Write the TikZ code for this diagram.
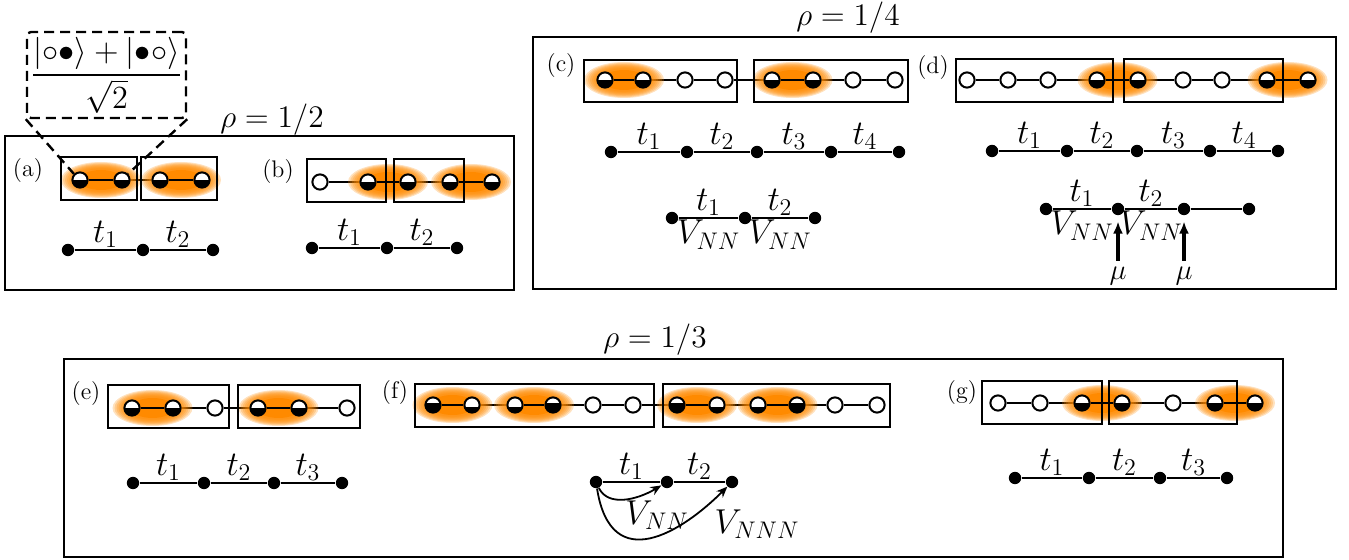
\documentclass[tikz,border=0pt]{standalone}
\usepackage{amsmath}
\usepackage{graphicx}
\usetikzlibrary{arrows.meta,calc}

\definecolor{glowcol}{RGB}{255,138,0}

\pgfdeclarelayer{bonds}
\pgfdeclarelayer{glows}
\pgfsetlayers{bonds,glows,main}

\tikzset{
  site/.style={circle, draw, fill=white, line width=1pt, minimum size=7.6pt, inner sep=0pt},
  vac/.style={},
  half/.style={path picture={\fill[black] (path picture bounding box.south west) rectangle (path picture bounding box.east);}},
  third/.style={path picture={\fill[black] (path picture bounding box.south west) rectangle ([yshift=-1.2pt]path picture bounding box.east);}},
  twothird/.style={path picture={\fill[black] (path picture bounding box.south west) rectangle ([yshift=1.2pt]path picture bounding box.east);}},
  dot/.style={circle, fill, minimum size=6.2pt, inner sep=0pt},
  bond/.style={line width=1.3pt},
  cell/.style={line width=0.8pt},
  sector/.style={line width=0.8pt},
  glow/.style={fill=glowcol, fill opacity=0.25},
  hop/.style={above, inner sep=0.5pt, font=\LARGE},
  coup/.style={below, inner sep=0.5pt, font=\LARGE},
  coupf/.style={inner sep=1pt, font=\LARGE},
  rhotitle/.style={font=\Large, scale=1.09, transform shape},
  panel/.style={font=\large},
  mu/.style={inner sep=1pt, font=\Large},
  callout/.style={draw, line width=1.2pt, dash pattern=on 5pt off 3pt, rounded corners=2pt,
    minimum width=79.5pt, minimum height=43pt, inner sep=0pt, font=\Large},
  zoomline/.style={line width=1.2pt, dash pattern=on 5pt off 3pt},
  push/.style={line width=1.6pt, shorten <=2pt, shorten >=3pt, -{Latex[length=6pt,width=5pt]}},
  reach/.style={line width=0.9pt, -{Stealth[length=5.5pt,width=4.5pt]}},
}

% #1 prefix, #2 row height, #3 x/filling of each site, #4 paired sites
\newcommand{\chainrow}[4]{%
  \foreach \x/\f [count=\i] in {#3}
    \node[site,\f] (#1\i) at (\x,#2) {};
  \begin{pgfonlayer}{bonds}
    \foreach \x/\f [count=\i, remember=\i as \k (initially 0)] in {#3}
      {\ifnum\k>0 \draw[bond] (#1\k) -- (#1\i);\fi}
  \end{pgfonlayer}
  \begin{pgfonlayer}{glows}
    % soft rim from stacked translucent ellipses, solid core
    \foreach \p/\q in {#4} {
      \foreach \s in {1.0,0.95,...,0.6}
        \fill[glow] ($(#1\p)!.5!(#1\q)$) ellipse [x radius=40*\s, y radius=18*\s];
      \fill[glowcol] ($(#1\p)!.5!(#1\q)$) ellipse [x radius=22, y radius=10];
    }
  \end{pgfonlayer}
  \foreach \p/\q in {#4}
    \draw[bond] (#1\p) -- (#1\q);
}

\begin{document}
\begin{tikzpicture}[x=0.5pt, y=-0.5pt]
\useasboundingbox (0,0) rectangle (1349,560);

% rho = 1/2
\draw[sector] (5,136) rectangle (514,290);
\node[rhotitle] (ttla) at (272,120) {$\rho=1/2$};

% (a)
\node[panel] (pa) at (28,171) {(a)};
\chainrow{a}{180}{80/half,122/half,160/half,202/half}{1/2,3/4}
\draw[cell] (61,157) rectangle (137,200);
\draw[cell] (141,157) rectangle (217,200);
\foreach \x [count=\i] in {68,143,213} \node[dot] (la\i) at (\x,250) {};
\draw[bond] (la1) -- node[hop] (ta1) {$t_1$} (la2) -- node[hop] (ta2) {$t_2$} (la3);
\node[callout] (sup) at (106.5,75)
  {\scalebox{1.12}{$\displaystyle\frac{|{\circ}{\bullet}\rangle+|{\bullet}{\circ}\rangle}{\sqrt{2}}$}};
\draw[zoomline] (sup.south west) -- (a1.north west);
\draw[zoomline] (sup.south east) -- (a2.north east);

% (b)
\node[panel] (pb) at (278,172) {(b)};
\chainrow{b}{182}{320/vac,368/half,408/half,450/half,492/half}{2/3,4/5}
\draw[cell] (307,159) rectangle (386,202);
\draw[cell] (394,159) rectangle (464,202);
\foreach \x [count=\i] in {312,387,457} \node[dot] (lb\i) at (\x,248) {};
\draw[bond] (lb1) -- node[hop] (tb1) {$t_1$} (lb2) -- node[hop] (tb2) {$t_2$} (lb3);

% rho = 1/4
\draw[sector] (533,37) rectangle (1336,289);
\node[rhotitle] (ttlb) at (848,18) {$\rho=1/4$};

% (c)
\node[panel] (pc) at (561,66) {(c)};
\chainrow{c}{80}{605/half,643/half,685/vac,725/vac,772/half,813/half,853/vac,895/vac}{1/2,5/6}
\draw[cell] (584,60) rectangle (737,102);
\draw[cell] (754,60) rectangle (908,102);
\foreach \x [count=\i] in {611,687,757,831,899} \node[dot] (lc\i) at (\x,152) {};
\draw[bond] (lc1) -- node[hop] (tc1) {$t_1$} (lc2) -- node[hop] (tc2) {$t_2$}
  (lc3) -- node[hop] (tc3) {$t_3$} (lc4) -- node[hop] (tc4) {$t_4$} (lc5);
\foreach \x [count=\i] in {672,745,815} \node[dot] (mc\i) at (\x,218) {};
\draw[bond] (mc1) -- node[hop] (uc1) {$t_1$} node[coup] (vc1) {$V_{NN}$}
  (mc2) -- node[hop] (uc2) {$t_2$} node[coup] (vc2) {$V_{NN}$} (mc3);

% (d)
\node[panel] (pd) at (933,68) {(d)};
\chainrow{d}{80}{967/vac,1008/vac,1048/vac,1097/half,1138/half,1183/vac,1222/vac,1267/half,1308/half}{4/5,8/9}
\draw[cell] (956,59) rectangle (1113,102);
\draw[cell] (1124,59) rectangle (1283,102);
\foreach \x [count=\i] in {992,1067,1137,1210,1278} \node[dot] (ld\i) at (\x,151) {};
\draw[bond] (ld1) -- node[hop] (td1) {$t_1$} (ld2) -- node[hop] (td2) {$t_2$}
  (ld3) -- node[hop] (td3) {$t_3$} (ld4) -- node[hop] (td4) {$t_4$} (ld5);
\foreach \x [count=\i] in {1046,1118,1184,1249} \node[dot] (md\i) at (\x,209) {};
\draw[bond] (md1) -- node[hop] (ud1) {$t_1$} node[coup] (vd1) {$V_{NN}$}
  (md2) -- node[hop] (ud2) {$t_2$} node[coup] (vd2) {$V_{NN}$} (md3) -- (md4);
\node[mu] (mu1) at (1118,276) {$\mu$};
\node[mu] (mu2) at (1184,276) {$\mu$};
\draw[push] (mu1) -- (md2);
\draw[push] (mu2) -- (md3);

% rho = 1/3
\draw[sector] (64,359) rectangle (1283,557);
\node[rhotitle] (ttlc) at (655,340) {$\rho=1/3$};

% (e)
\node[panel] (pe) at (86,394) {(e)};
\chainrow{e}{408}{132/half,173/half,215/vac,258/half,299/half,347/vac}{1/2,4/5}
\draw[cell] (108,385) rectangle (229,428);
\draw[cell] (238,385) rectangle (360,428);
\foreach \x [count=\i] in {133,204,274,342} \node[dot] (le\i) at (\x,483) {};
\draw[bond] (le1) -- node[hop] (te1) {$t_1$} (le2) -- node[hop] (te2) {$t_2$}
  (le3) -- node[hop] (te3) {$t_3$} (le4);

% (f)
\node[panel] (pf) at (395,393) {(f)};
\chainrow{f}{405}{433/twothird,472/third,515/third,553/twothird,593/vac,633/vac,677/twothird,717/third,758/third,797/twothird,835/vac,877/vac}{1/2,3/4,7/8,9/10}
\draw[cell] (415,384) rectangle (654,427);
\draw[cell] (663,384) rectangle (890,427);
\foreach \x [count=\i] in {596,667,732} \node[dot] (lf\i) at (\x,482) {};
\draw[bond] (lf1) -- node[hop] (tf1) {$t_1$} (lf2) -- node[hop] (tf2) {$t_2$} (lf3);
\draw[reach] (lf1) .. controls +(12,25) and +(-30,18) .. (lf2);
\draw[reach] (lf1) .. controls +(15,95) and +(-50,50) .. (lf3);
\node[coupf] (vf1) at (657,515) {$V_{NN}$};
\node[coupf] (vf2) at (757,524) {$V_{NNN}$};

% (g)
\node[panel] (pg) at (962,393) {(g)};
\chainrow{g}{403}{998/vac,1040/vac,1082/half,1122/half,1173/vac,1215/half,1255/half}{3/4,6/7}
\draw[cell] (982,381) rectangle (1102,424);
\draw[cell] (1109,381) rectangle (1237,424);
\foreach \x [count=\i] in {1015,1089,1160,1227} \node[dot] (lg\i) at (\x,478) {};
\draw[bond] (lg1) -- node[hop] (tg1) {$t_1$} (lg2) -- node[hop] (tg2) {$t_2$}
  (lg3) -- node[hop] (tg3) {$t_3$} (lg4);
\end{tikzpicture}
\end{document}
